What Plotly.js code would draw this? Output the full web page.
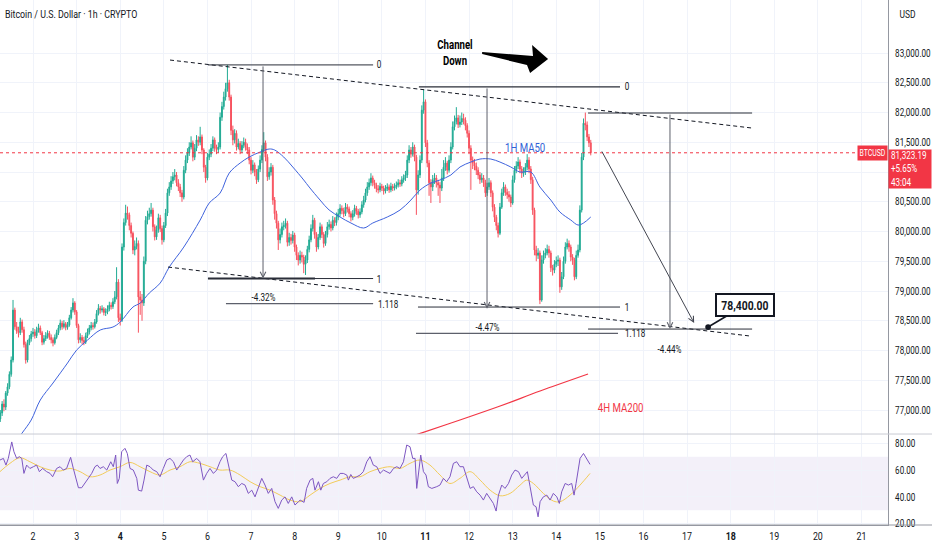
<!DOCTYPE html>
<html><head><meta charset="utf-8">
<script src="https://cdn.plot.ly/plotly-3.0.1.min.js"></script>
<style>html,body{margin:0;padding:0;background:#fff}#chart{width:932px;height:550px}</style>
</head><body><div id="chart"></div>
<script>
// ---- hourly candles, Mar 1 06:00 onwards (x = hours since Mar 1 00:00) ----
const opens=[76850,76950,77100,77050,77285,77390,77600,77840,78680,78400,
78330,78300,78480,78350,78100,77840,78130,78200,78280,78310,
78250,78340,78380,78300,78140,78200,78250,78290,78220,78180,
78130,78220,78300,78380,78460,78400,78450,78390,78430,78550,
78680,78800,78650,78420,78180,78220,78170,78140,78250,78310,
78380,78420,78400,78480,78620,78710,78680,78700,78640,78650,
78700,78760,78740,78820,78900,79150,78550,78510,79740,80150,
80310,80280,80100,79970,79690,79750,79800,78900,78850,78800,
79500,80190,80250,80300,80360,80080,79910,80030,80230,80050,
79860,80100,80310,80650,80750,80850,80920,80950,80820,80750,
80650,80580,81030,81200,81320,81420,81490,81250,81400,81540,
81500,81590,81370,81080,80900,81250,81300,81400,81540,81400,
81380,81420,81920,82100,82260,82400,82500,82260,81700,81540,
81650,81420,81480,81370,81450,81500,81420,81370,81200,81030,
81120,81000,80870,81050,81200,81380,81490,81250,80920,81000,
81080,80530,80300,80140,79860,79950,80080,80100,80140,79820,
79900,79850,79940,79740,79600,79520,79600,79570,79450,79520,
79700,79860,80050,80190,79950,79740,79900,80080,79950,79800,
79950,80080,80120,80060,80190,80150,80240,80300,80390,80350,
80300,80410,80380,80300,80240,80300,80390,80340,80280,80330,
80450,80530,80650,80750,80820,80900,80820,80780,80720,80700,
80760,80730,80680,80720,80750,80700,80760,80730,80750,80780,
80820,80800,80870,80900,80950,81200,81370,81300,81420,81250,
80700,80950,81200,82040,82180,81490,81150,80820,80750,80870,
80900,80820,80780,80730,80900,81080,81150,81030,81200,81420,
81760,81850,81910,81800,81840,81900,81870,81780,81650,81400,
81200,81150,81100,81030,80950,80870,80900,80820,80650,80750,
80820,80650,80410,80240,80100,79970,80410,80650,80750,80660,
80620,80580,80480,80870,81030,81100,81170,81050,80980,81000,
81080,81200,81050,80870,80360,79690,79600,79640,78850,79520,
79600,79640,79700,79640,79390,79350,79450,79500,79520,79070,
79240,79500,79740,79800,79740,79570,79520,79240,79600,79690,
80360,81250,81820,81790,81590,81490];
const closes=[76950,77100,77050,77285,77390,77600,77840,78680,78400,78330,
78300,78480,78350,78100,77840,78130,78200,78280,78310,78250,
78340,78380,78300,78140,78200,78250,78290,78220,78180,78130,
78220,78300,78380,78460,78400,78450,78390,78430,78550,78680,
78800,78650,78420,78180,78220,78170,78140,78250,78310,78380,
78420,78400,78480,78620,78710,78680,78700,78640,78650,78700,
78760,78740,78820,78900,79150,78550,78510,79740,80150,80310,
80280,80100,79970,79690,79750,79800,78900,78850,78800,79500,
80190,80250,80300,80360,80080,79910,80030,80230,80050,79860,
80100,80310,80650,80750,80850,80920,80950,80820,80750,80650,
80580,81030,81200,81320,81420,81490,81250,81400,81540,81500,
81590,81370,81080,80900,81250,81300,81400,81540,81400,81380,
81420,81920,82100,82260,82400,82500,82260,81700,81540,81650,
81420,81480,81370,81450,81500,81420,81370,81200,81030,81120,
81000,80870,81050,81200,81380,81490,81250,80920,81000,81080,
80530,80300,80140,79860,79950,80080,80100,80140,79820,79900,
79850,79940,79740,79600,79520,79600,79570,79450,79520,79700,
79860,80050,80190,79950,79740,79900,80080,79950,79800,79950,
80080,80120,80060,80190,80150,80240,80300,80390,80350,80300,
80410,80380,80300,80240,80300,80390,80340,80280,80330,80450,
80530,80650,80750,80820,80900,80820,80780,80720,80700,80760,
80730,80680,80720,80750,80700,80760,80730,80750,80780,80820,
80800,80870,80900,80950,81200,81370,81300,81420,81250,80700,
80950,81200,82040,82180,81490,81150,80820,80750,80870,80900,
80820,80780,80730,80900,81080,81150,81030,81200,81420,81760,
81850,81910,81800,81840,81900,81870,81780,81650,81400,81200,
81150,81100,81030,80950,80870,80900,80820,80650,80750,80820,
80650,80410,80240,80100,79970,80410,80650,80750,80660,80620,
80580,80480,80870,81030,81100,81170,81050,80980,81000,81080,
81200,81050,80870,80360,79690,79600,79640,78850,79520,79600,
79640,79700,79640,79390,79350,79450,79500,79520,79070,79240,
79500,79740,79800,79740,79570,79520,79240,79600,79690,80360,
81250,81820,81790,81590,81490,81323.19];
const highs=[77000,77150,77180,77320,77450,77650,77900,78850,78720,78480,
78400,78550,78520,78400,78150,78180,78260,78330,78380,78360,
78400,78450,78420,78330,78260,78310,78340,78330,78270,78220,
78270,78350,78430,78520,78500,78510,78480,78480,78600,78730,
78880,78830,78680,78450,78290,78260,78230,78300,78370,78430,
78480,78470,78530,78680,78780,78750,78760,78730,78710,78760,
78820,78810,78880,79000,79400,79200,78620,79800,80220,80450,
80420,80320,80150,80000,79850,79900,79850,79000,78950,79580,
80260,80350,80400,80480,80400,80120,80100,80300,80280,80100,
80160,80380,80720,80830,80930,81000,81050,81000,80880,80800,
80700,81100,81280,81400,81500,81600,81530,81470,81620,81600,
81760,81630,81400,81120,81320,81380,81470,81600,81580,81460,
81500,82000,82180,82350,82500,82800,82550,82300,81780,81720,
81700,81560,81520,81520,81580,81560,81480,81420,81250,81200,
81160,81050,81110,81280,81450,81670,81530,81300,81080,81150,
81120,80580,80350,80180,80050,80150,80180,80220,80180,79980,
79960,80010,79980,79780,79650,79680,79660,79610,79600,79760,
79930,80120,80280,80230,79990,79960,80150,80120,79990,80010,
80160,80200,80170,80260,80240,80320,80380,80460,80440,80400,
80480,80460,80420,80340,80360,80450,80430,80380,80390,80510,
80600,80720,80830,80890,80980,80940,80870,80820,80780,80820,
80800,80770,80780,80810,80790,80820,80800,80810,80840,80880,
80870,80930,80960,81020,81280,81450,81420,81500,81460,81290,
81030,81280,82120,82380,82220,81540,81200,80880,80950,80980,
80950,80870,80830,81050,81200,81250,81190,81280,81500,81850,
81950,82090,81960,81950,82000,81980,81920,81820,81700,81450,
81260,81220,81160,81080,81000,80980,80950,80870,80820,80900,
80860,80690,80460,80280,80150,80480,80720,80830,80790,80720,
80680,80620,80940,81100,81180,81250,81210,81100,81080,81150,
81300,81250,81100,80920,80400,79760,79720,79680,79600,79680,
79720,79780,79760,79680,79440,79520,79580,79600,79560,79320,
79580,79820,79880,79850,79780,79620,79560,79680,79780,80440,
81320,81900,82000,81850,81640,81540];
const lows=[76800,76900,76980,77000,77240,77350,77560,77800,78350,78280,
78220,78260,78300,78050,77780,77800,78090,78150,78230,78200,
78210,78300,78260,78090,78100,78160,78200,78180,78120,78070,
78100,78190,78260,78340,78350,78370,78340,78350,78400,78520,
78640,78600,78380,78120,78130,78110,78090,78110,78210,78270,
78340,78350,78370,78450,78590,78620,78640,78590,78580,78610,
78660,78690,78700,78780,78860,78480,78420,78480,79680,80100,
80200,80020,79900,79620,79600,79700,78300,78600,78500,78750,
79450,80120,80200,80250,80000,79850,79860,79980,79990,79780,
79820,80060,80260,80600,80700,80800,80860,80760,80680,80580,
80500,80540,80980,81150,81270,81380,81180,81200,81350,81440,
81450,81300,81000,80820,80860,81200,81250,81350,81340,81300,
81320,81380,81860,82050,82200,82350,82200,81620,81450,81480,
81360,81380,81300,81320,81400,81360,81300,81130,80960,80980,
80930,80800,80830,81000,81150,81330,81180,80850,80870,80940,
80450,80200,80050,79690,79800,79900,80020,80050,79750,79760,
79780,79800,79660,79520,79430,79460,79480,79300,79270,79470,
79650,79820,80000,79880,79660,79700,79860,79890,79730,79760,
79900,80030,80000,80020,80090,80100,80190,80250,80290,80240,
80260,80320,80240,80170,80190,80250,80280,80220,80230,80290,
80400,80490,80600,80700,80770,80760,80720,80660,80640,80660,
80680,80620,80640,80680,80650,80660,80680,80690,80710,80740,
80750,80760,80820,80850,80900,81150,81240,81260,81180,80280,
80620,80900,81150,81980,81420,81080,80600,80480,80680,80800,
80740,80600,80480,80680,80850,81020,80960,80990,81150,81380,
81700,81800,81740,81750,81790,81800,81700,81580,81300,80700,
81050,81030,80950,80880,80800,80820,80750,80580,80600,80700,
80580,80340,80160,80020,79900,79940,80380,80600,80600,80550,
80500,80410,80450,80820,80980,81050,80980,80900,80920,80950,
81030,80980,80800,80280,79600,79500,79540,78780,78820,79460,
79550,79600,79560,79320,79260,79300,79400,79420,78970,79020,
79200,79460,79700,79660,79500,79440,79180,79200,79560,79650,
80320,81200,81700,81520,81420,81280];
const startHour = 6;

// ---- 1H MA50 ----
const maHours=[12,18,23,28,35,43,48,54,61,68,72,79,83,88,94,99,107,116,121,127,132,138,143,149,154,157,162,167,173,176,182,187,193,199,206,211,219,226,232,237,243,248,254,259,265,270,276,281,287,292,298,303,309,314,320,324,327,331];
const maValues=[76360,76614,76832,77168,77454,77790,78008,78176,78345,78395,78479,78731,78798,78966,79134,79403,79739,80193,80479,80647,80983,81151,81252,81336,81387,81370,81252,81084,80866,80748,80529,80361,80244,80143,80059,80143,80244,80361,80529,80697,80815,80866,80950,81084,81168,81218,81218,81168,81084,81000,81000,80748,80529,80328,80193,80109,80143,80244];

// ---- 4H MA200 ----
const ma200Hours=[226.0,237.6,259.0,281.1,303.1,329.5];
const ma200Values=[76496,76613,76832,77067,77319,77605];

// ---- channel (dashed) ----
const channelTopHours=[99.4,419.8];
const channelTopValues=[82882,81739];
const channelBottomHours=[98.3,418.7];
const channelBottomValues=[79403,78244];

// ---- RSI and its MA ----
const rsiHours=[5.8,7.7,9.1,10.4,12.3,13.5,15.0,16.5,17.8,19.0,20.5,22.3,24.2,26.0,27.5,29.3,31.5,33.4,34.8,37.0,38.9,40.7,42.5,44.7,46.2,47.7,49.0,50.8,52.6,54.5,56.3,58.1,59.4,60.9,62.7,64.6,66.8,68.2,69.5,70.4,71.5,72.8,74.6,75.9,77.4,79.2,81.1,82.0,83.8,85.1,86.6,88.4,90.2,92.1,93.9,95.7,97.6,99.4,101.3,103.1,104.9,106.8,108.6,110.4,111.9,114.1,115.9,117.8,119.6,121.4,123.3,125.1,126.9,128.4,130.2,132.1,133.4,135.2,137.0,138.9,140.7,142.5,144.4,146.2,148.0,149.9,151.7,153.5,155.4,157.2,159.0,160.9,162.7,164.5,166.4,168.2,170.1,171.0,173.2,174.6,176.5,178.0,179.2,181.1,182.4,183.8,185.7,187.5,189.3,191.2,193.0,194.8,196.7,197.6,198.9,200.3,202.2,204.0,205.8,207.7,209.5,211.3,213.2,215.0,216.9,218.7,220.5,222.4,224.2,226.0,227.9,229.7,231.5,233.0,234.3,235.2,236.1,237.4,238.9,240.3,241.6,243.5,246.2,248.0,249.9,251.7,253.5,255.4,257.2,259.0,260.9,262.7,264.6,266.4,268.2,270.1,271.9,273.7,275.6,277.4,278.9,280.2,282.0,283.8,285.7,287.5,289.3,291.2,293.0,294.8,296.1,297.6,299.4,300.9,302.0,303.1,304.9,306.8,308.6,310.4,312.3,313.7,315.0,316.9,318.7,320.5,321.8,322.9,324.2,325.1,327.0,328.8,330.6];
const rsiValues=[67.5,68.7,63.7,68.7,81,73.7,68.7,70,68.7,57.5,63.7,61.2,62.5,63.7,58.8,61.2,58.8,57.5,55,61.2,62.5,60,61.2,69.5,61.2,52.5,46.8,46.8,50,53.8,57.5,62.5,63.7,61.2,62.5,60,66.2,62.5,71.2,50,53.8,73.7,76.2,72.4,61.2,60,53.8,45,44.3,52.5,63.7,62.5,60,58.8,55,61.2,67.5,68.7,66.2,60,63.7,67.5,70,71.2,66.2,68.7,66.2,52.5,57.5,61.2,57.5,60,66.2,70,72.4,58.8,52.5,51.3,47.6,50,48.8,42.6,45,40,46.3,53.8,48.8,42.6,46.3,36.4,31.4,37.6,40,35.1,40,33.9,36.4,37.6,35.9,46.3,52.5,53.8,45,51.3,45,50,51.3,53.8,55,53.8,57.5,57.5,56.3,52.5,56.7,53.8,55,56.3,58.8,66.2,70,63.7,62.5,57.5,60,58.8,57.5,61.2,62.5,61.2,66.2,78.7,77.4,68.7,68.7,46.3,56.3,71.2,58.8,56.3,47.6,46.3,47.6,48.8,53.8,51.3,55,65,66.2,62.5,62.5,55,46.3,47.6,43.8,41.3,37.6,42.6,38.9,35.1,29.4,41.3,48.8,46.3,50,56.3,60,58.8,53.8,56.3,58.8,47.6,33.9,32.6,25.1,36.4,40,41.3,37.6,42.6,40,35.1,43.8,50,48.8,50,41.3,50,60,68.7,72.4,68.7,64.2];
const rsiMaHours=[5.8,11.3,16.8,22.3,27.9,33.4,38.9,44.4,49.9,55.4,60.9,66.4,71.9,77.4,82.9,88.4,93.9,99.4,104.9,110.4,115.9,121.4,126.9,132.4,138.0,143.5,149.0,154.5,160.0,165.5,171.0,176.5,182.0,187.5,193.0,198.5,204.0,209.5,215.0,220.5,226.0,231.5,237.0,242.5,248.0,253.5,259.0,264.6,270.1,275.6,281.1,286.6,292.1,295.7,299.4,304.9,310.4,314.1,319.6,325.1,330.6];
const rsiMaValues=[58.8,65,69.2,66.2,62.5,60,59.3,61.2,58.8,55,56.3,60,62.5,65.7,62.5,58.8,56.3,60,62.5,66.2,65,62.5,60,60,56.3,51.3,47.6,45,41.3,37.6,36.4,41.3,46.3,50,52.5,55,55,58.8,61.2,62.5,61.2,65,67.5,63.7,56.3,50,53.8,58.8,52.5,45,40.8,42.6,48.8,52.5,50,42.6,36.9,36.4,41.3,48.8,57.5];

// ---- measurement levels ----
const fib1Levels=[82800,79210,78790];
const fib2Levels=[82430,78731,78290];
const fib3Levels=[81992,78361];
const lastPrice=81323.19;

// ---- axis ticks ----
const dayTicks=[2,3,4,5,6,7,8,9,10,11,12,13,14,15,16,17,18,19,20,21];
const boldDays=[4,11,18];
const priceTicks=[77000,77500,78000,78500,79000,79500,80000,80500,81000,81500,82000,82500,83000];
const hiddenPriceTick=81000; // covered by the last-price box in the reference
const rsiTicks=[20,40,60,80];

const FONT='Roboto,"Liberation Sans",Arial,sans-serif';
const INK='#131722';
const SQUEEZE=0.77;
const candleHours=closes.map((_,i)=>startHour+i);

const traces=[
  {type:'candlestick',x:candleHours,open:opens,high:highs,low:lows,close:closes,xaxis:'x',yaxis:'y',
   increasing:{line:{color:'#22ab94',width:1},fillcolor:'#22ab94'},
   decreasing:{line:{color:'#f7525f',width:1},fillcolor:'#f7525f'},
   whiskerwidth:0,hoverinfo:'skip'},
  {type:'scatter',mode:'lines',x:maHours,y:maValues,xaxis:'x',yaxis:'y',line:{color:'#3f63dd',width:1,shape:'spline'},hoverinfo:'skip'},
  {type:'scatter',mode:'lines',x:ma200Hours,y:ma200Values,xaxis:'x',yaxis:'y',line:{color:'#f23645',width:1.2,shape:'spline'},hoverinfo:'skip'},
  {type:'scatter',mode:'lines',x:channelTopHours,y:channelTopValues,xaxis:'x',yaxis:'y',line:{color:INK,width:1,dash:'4px,3px'},hoverinfo:'skip'},
  {type:'scatter',mode:'lines',x:channelBottomHours,y:channelBottomValues,xaxis:'x',yaxis:'y',line:{color:INK,width:1,dash:'4px,3px'},hoverinfo:'skip'},
  {type:'scatter',mode:'lines',x:rsiMaHours,y:rsiMaValues,xaxis:'x',yaxis:'y2',line:{color:'#f2cc5a',width:1,shape:'spline'},hoverinfo:'skip'},
  {type:'scatter',mode:'lines',x:rsiHours,y:rsiValues,xaxis:'x',yaxis:'y2',line:{color:'#7e57c2',width:1},hoverinfo:'skip'}
];

const SPLIT=0.1733;
function hline(x0,x1,y,color,w){return {type:'line',xref:'x',yref:'y',x0:x0,x1:x1,y0:y,y1:y,line:{color:color,width:w}};}
const shapes=[
  {type:'rect',xref:'paper',yref:'y2',x0:0,x1:1,y0:30,y1:70,fillcolor:'rgba(126,87,194,0.09)',line:{width:0},layer:'below'},
  {type:'line',xref:'paper',yref:'paper',x0:0,x1:1.05,y0:SPLIT,y1:SPLIT,line:{color:'#c9ccd3',width:1}},
  {type:'line',xref:'paper',yref:'paper',x0:0,x1:1.05,y0:0,y1:0,line:{color:'#9598a1',width:1}},
  {type:'line',xref:'paper',yref:'y',x0:0,x1:1,y0:lastPrice,y1:lastPrice,line:{color:'#f23645',width:1,dash:'dot'}},
  // measurement 1
  hline(120.3,211.2,fib1Levels[0],'#2a2e39',1),
  hline(120.3,211.2,fib1Levels[1],'#2a2e39',1),
  hline(120.3,179.2,fib1Levels[1],'#2a2e39',2),
  hline(130.2,211.2,fib1Levels[2],'#5d606b',1.3),
  // measurement 2
  hline(236.4,347.1,fib2Levels[0],'#2a2e39',1.3),
  hline(235.9,347.1,fib2Levels[1],'#2a2e39',1),
  hline(234.8,346.0,fib2Levels[2],'#5d606b',1.3),
  // measurement 3
  hline(329.5,419.8,fib3Levels[0],'#2a2e39',1),
  hline(329.5,419.8,fib3Levels[1],'#2a2e39',1),
  // Channel Down arrow
  {type:'path',xref:'x',yref:'y',path:'M271.2,83017 L299.2,82950 L298.7,83134 L307.5,82899 L297.6,82664 L295.9,82798 L271.2,82983 Z',fillcolor:'#000',line:{width:0}}
];

function label(x,y,t,opts){return Object.assign({x:x,y:y,xref:'x',yref:'y',text:t,showarrow:false,font:{family:FONT,size:10.5,color:INK}},opts||{});}
function arrow(x,y0,y1,color){return {xref:'x',yref:'y',axref:'x',ayref:'y',x:x,y:y1,ax:x,ay:y0,text:'',showarrow:true,arrowhead:5,arrowsize:1.1,arrowwidth:1,arrowcolor:color,standoff:0};}
const annotations=[
  {xref:'paper',yref:'paper',x:0.0794,y:0.9733,xanchor:'center',yanchor:'middle',showarrow:false,text:'Bitcoin / U.S. Dollar · 1h · CRYPTO',font:{family:FONT,size:11.5,color:INK}},
  {xref:'paper',yref:'paper',x:1.0214,y:0.9733,xanchor:'center',yanchor:'middle',showarrow:false,text:'USD',font:{family:FONT,size:11,color:INK}},
  label(214.5,82815,'0'),label(214.5,79202,'1'),label(219.5,78782,'1.118'),label(150.6,78899,'-4.32%'),
  label(350.9,82429,'0'),label(350.9,78731,'1'),label(355.2,78294,'1.118'),label(273.9,78395,'-4.47%'),
  label(374.6,78025,'-4.44%'),
  arrow(150.6,fib1Levels[0],fib1Levels[1],'#5d606b'),
  arrow(273.9,fib2Levels[0],fib2Levels[1]-30,'#5d606b'),
  arrow(374.6,fib3Levels[0],fib3Levels[1],'#5d606b'),
  {xref:'x',yref:'y',axref:'x',ayref:'y',x:387.9,y:78462,ax:336.7,ay:81370,text:'',showarrow:true,arrowhead:5,arrowsize:1.1,arrowwidth:1,arrowcolor:'#434651',standoff:0},
  label(256.3,83010,'<b>Channel<br>Down</b>',{font:{family:FONT,size:12.5,color:'#000'}}),
  label(294.8,81420,'1H MA50',{font:{family:FONT,size:12.5,color:'#2f5fd6'}}),
  label(347.1,77050,'4H MA200',{font:{family:FONT,size:12.5,color:'#f23645'}}),
  {xref:'x',yref:'y',x:395.6,y:78395,ax:37,ay:-22,text:'<b>78,400.00</b>',showarrow:true,arrowhead:6,arrowsize:0.9,arrowwidth:1.6,arrowcolor:INK,standoff:0,
   width:52,height:16,bgcolor:'#fff',bordercolor:INK,borderwidth:2,borderpad:2,font:{family:FONT,size:13.5,color:INK}},
  {xref:'paper',yref:'y',x:1,y:lastPrice,xanchor:'right',yanchor:'middle',showarrow:false,text:'BTCUSD',width:25,height:10,bgcolor:'#f23645',borderpad:2,font:{family:FONT,size:9,color:'#fff'}},
  {xref:'paper',yref:'y',x:1,y:lastPrice,xanchor:'left',yanchor:'top',yshift:4,showarrow:false,align:'left',width:38,height:34,
   text:'81,323.19<br>+5.65%<br>43:04',bgcolor:'#f23645',borderpad:2,font:{family:FONT,size:10.5,color:'#fff'}}
];

const layout={
  width:932,height:550,margin:{l:0,r:44,t:0,b:25},
  paper_bgcolor:'#fff',plot_bgcolor:'#fff',showlegend:false,hovermode:false,dragmode:false,
  font:{family:FONT,size:11,color:INK},
  xaxis:{range:[5.83,494.6],anchor:'y2',tickvals:dayTicks.map(d=>(d-1)*24),
    ticktext:dayTicks.map(d=>boldDays.includes(d)?'<b>'+d+'</b>':String(d)),
    showgrid:true,gridcolor:'#f0f3fa',zeroline:false,showline:true,linecolor:'#9598a1',ticks:'',
    rangeslider:{visible:false},tickfont:{family:FONT,size:11.5,color:INK},fixedrange:true},
  yaxis:{domain:[SPLIT,1],range:[76597,83891],side:'right',anchor:'x',tickvals:priceTicks,
    ticktext:priceTicks.map(p=>p===hiddenPriceTick?'':p.toLocaleString('en-US',{minimumFractionDigits:2})),
    gridcolor:'#f0f3fa',showline:true,linecolor:'#9598a1',zeroline:false,ticks:'',ticklabelstandoff:4,
    tickfont:{family:FONT,size:10.5,color:INK},fixedrange:true},
  yaxis2:{domain:[0,SPLIT],range:[19,86.9],side:'right',anchor:'x',tickvals:rsiTicks,tickformat:'.2f',
    gridcolor:'#f0f3fa',showline:true,linecolor:'#9598a1',zeroline:false,ticks:'',ticklabelstandoff:4,
    tickfont:{family:FONT,size:10.5,color:INK},fixedrange:true},
  shapes:shapes,annotations:annotations
};

// The reference's type is a condensed face: scale the rendered texts horizontally about their anchor.
function squeeze(){
  const gd=document.getElementById('chart');
  gd.querySelectorAll('.ytick text, .y2tick text, .xtick text, text.annotation-text').forEach(t=>{
    if(t.dataset.sq) return;
    const bb=t.getBBox();
    if(!bb.width) return;
    t.dataset.sq='1';
    t.removeAttribute('clip-path');
    t.style.clipPath='none';
    const anchor=t.getAttribute('text-anchor')||getComputedStyle(t).textAnchor||'start';
    const px=anchor==='start'?bb.x:(anchor==='end'?bb.x+bb.width:bb.x+bb.width/2);
    const prev=t.getAttribute('transform')||'';
    t.setAttribute('transform',(prev+' translate('+px.toFixed(2)+',0) scale('+SQUEEZE+',1) translate('+(-px).toFixed(2)+',0)').trim());
  });
}
const drawn=Plotly.newPlot('chart',traces,layout,{staticPlot:true,displayModeBar:false});
squeeze();
drawn.then(squeeze);
</script></body></html>
